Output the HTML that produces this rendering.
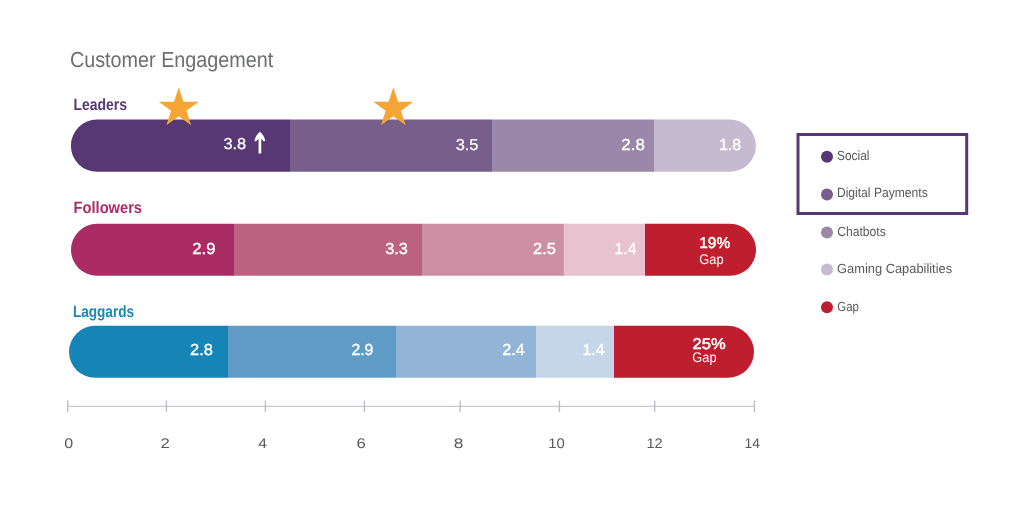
<!DOCTYPE html>
<html lang="en">
<head>
<meta charset="utf-8">
<title>Customer Engagement</title>
<style>
html,body{margin:0;padding:0;background:#fff;}
body{width:1024px;height:509px;overflow:hidden;font-family:"Liberation Sans",sans-serif;}
svg{display:block;}
text{font-family:"Liberation Sans",sans-serif;text-rendering:geometricPrecision;}
.t-title{fill:#6d6e71;}
.t-l1{fill:#573874;font-weight:bold;}
.t-l2{fill:#ab2b65;font-weight:bold;}
.t-l3{fill:#1d86b5;font-weight:bold;}
.num{fill:#fff;stroke:#fff;stroke-width:0.35px;}
.numa{stroke-width:0.25px;}
.pct{fill:#fff;stroke:#fff;stroke-width:0.5px;}
.gap{fill:#fff;}
.ax{fill:#58595b;}
.lg{fill:#58595b;}
</style>
</head>
<body>
<svg width="1024" height="509" viewBox="0 0 1024 509">
<defs>
<clipPath id="c1"><rect x="70.9" y="119.6" width="685" height="52.2" rx="26.1"/></clipPath>
<clipPath id="c2"><rect x="71" y="223.8" width="685" height="52" rx="26"/></clipPath>
<clipPath id="c3"><rect x="69" y="325.8" width="685" height="52" rx="26"/></clipPath>
</defs>

<!-- Leaders -->
<g clip-path="url(#c1)">
<rect x="70" y="119" width="220" height="54" fill="#573874"/>
<rect x="290" y="119" width="202" height="54" fill="#775e8b"/>
<rect x="492" y="119" width="162" height="54" fill="#9a87a9"/>
<rect x="654" y="119" width="102" height="54" fill="#c5bad0"/>
</g>
<path id="arrow" d="M259.9 131.7C262.3 133.6 264.6 137 265.3 140.5L264 141.4L261.25 138.8V153.6H258.55V138.8L255.8 141.4L254.5 140.5C255.2 137 257.5 133.6 259.9 131.7Z" fill="#fff"/>

<!-- stars -->
<polygon id="s1" fill="#f5a533" points="178.75,87.20 183.47,101.71 198.72,101.71 186.38,110.68 191.09,125.19 178.75,116.22 166.41,125.19 171.12,110.68 158.78,101.71 174.03,101.71"/>
<polygon id="s2" fill="#f5a533" points="393.30,87.20 398.02,101.71 413.27,101.71 400.93,110.68 405.64,125.19 393.30,116.22 380.96,125.19 385.67,110.68 373.33,101.71 388.58,101.71"/>

<!-- Followers -->
<g clip-path="url(#c2)">
<rect x="71" y="223" width="163" height="54" fill="#ab2b65"/>
<rect x="234" y="223" width="188" height="54" fill="#bb6280"/>
<rect x="422" y="223" width="143" height="54" fill="#cd8fa3"/>
<rect x="563.8" y="223" width="81.2" height="54" fill="#e6c3cf"/>
<rect x="645" y="223" width="111" height="54" fill="#be1e2d"/>
</g>

<!-- Laggards -->
<g clip-path="url(#c3)">
<rect x="69" y="325" width="159" height="54" fill="#1585b5"/>
<rect x="228" y="325" width="168" height="54" fill="#5f9cc5"/>
<rect x="396" y="325" width="140" height="54" fill="#93b5d5"/>
<rect x="536" y="325" width="78" height="54" fill="#c5d6e9"/>
<rect x="614" y="325" width="140" height="54" fill="#be1e2d"/>
</g>

<!-- axis -->
<line x1="67.7" y1="406.35" x2="754.4" y2="406.35" stroke="#c9c8ce" stroke-width="1.2"/>
<g stroke="#bfbbcc" stroke-width="1.4">
<line x1="67.8" y1="400.6" x2="67.8" y2="412"/>
<line x1="166.4" y1="400.6" x2="166.4" y2="412"/>
<line x1="265.4" y1="400.6" x2="265.4" y2="412"/>
<line x1="364.4" y1="400.6" x2="364.4" y2="412"/>
<line x1="460.1" y1="400.6" x2="460.1" y2="412"/>
<line x1="559.4" y1="400.6" x2="559.4" y2="412"/>
<line x1="654.7" y1="400.6" x2="654.7" y2="412"/>
<line x1="754.4" y1="400.6" x2="754.4" y2="412"/>
</g>

<!-- legend -->
<rect x="798" y="134.5" width="168.7" height="79" fill="none" stroke="#573874" stroke-width="3"/>
<circle cx="827" cy="156.8" r="6" fill="#573874"/>
<circle cx="827" cy="194.6" r="6" fill="#775e8b"/>
<circle cx="827" cy="232.4" r="6" fill="#9a87a9"/>
<circle cx="827" cy="269.5" r="6" fill="#c5bad0"/>
<circle cx="827" cy="307.35" r="6" fill="#be1e2d"/>

<!-- text -->
<text id="title" class="t-title" x="69.97" y="67.10" font-size="21.8" textLength="203.29" lengthAdjust="spacingAndGlyphs">Customer Engagement</text>
<text id="l1" class="t-l1" x="73.56" y="109.50" font-size="16.4" textLength="53.48" lengthAdjust="spacingAndGlyphs">Leaders</text>
<text id="l2" class="t-l2" x="73.58" y="213.20" font-size="16.4" textLength="68.46" lengthAdjust="spacingAndGlyphs">Followers</text>
<text id="l3" class="t-l3" x="72.88" y="316.50" font-size="16.4" textLength="61.20" lengthAdjust="spacingAndGlyphs">Laggards</text>
<text id="n11" class="num numa" x="223.40" y="148.60" font-size="15.8" textLength="22.84" lengthAdjust="spacingAndGlyphs">3.8</text>
<text id="n12" class="num numa" x="455.67" y="149.80" font-size="15.8" textLength="22.82" lengthAdjust="spacingAndGlyphs">3.5</text>
<text id="n13" class="num" x="621.30" y="149.80" font-size="16" textLength="23.54" lengthAdjust="spacingAndGlyphs">2.8</text>
<text id="n14" class="num" x="718.91" y="149.80" font-size="16" textLength="22.13" lengthAdjust="spacingAndGlyphs">1.8</text>
<text id="n21" class="num" x="192.31" y="253.80" font-size="16" textLength="23.11" lengthAdjust="spacingAndGlyphs">2.9</text>
<text id="n22" class="num" x="385.16" y="253.80" font-size="16" textLength="22.65" lengthAdjust="spacingAndGlyphs">3.3</text>
<text id="n23" class="num" x="533.12" y="253.80" font-size="16" textLength="22.85" lengthAdjust="spacingAndGlyphs">2.5</text>
<text id="n24" class="num" x="614.60" y="253.80" font-size="16" textLength="21.83" lengthAdjust="spacingAndGlyphs">1.4</text>
<text id="p2" class="pct" x="699.29" y="248.10" font-size="15.6" textLength="30.93" lengthAdjust="spacingAndGlyphs">19%</text>
<text id="g2" class="gap" x="699.37" y="264.10" font-size="14" textLength="24.28" lengthAdjust="spacingAndGlyphs">Gap</text>
<text id="n31" class="num" x="190.11" y="355.10" font-size="16" textLength="22.83" lengthAdjust="spacingAndGlyphs">2.8</text>
<text id="n32" class="num" x="351.42" y="355.10" font-size="16" textLength="21.95" lengthAdjust="spacingAndGlyphs">2.9</text>
<text id="n33" class="num" x="502.17" y="355.10" font-size="16" textLength="22.61" lengthAdjust="spacingAndGlyphs">2.4</text>
<text id="n34" class="num" x="582.43" y="355.10" font-size="16" textLength="22.36" lengthAdjust="spacingAndGlyphs">1.4</text>
<text id="p3" class="pct" x="692.54" y="349.10" font-size="15.6" textLength="33.11" lengthAdjust="spacingAndGlyphs">25%</text>
<text id="g3" class="gap" x="692.37" y="362.10" font-size="14" textLength="24.28" lengthAdjust="spacingAndGlyphs">Gap</text>
<text id="a0" class="ax" x="64.27" y="448.25" font-size="14" textLength="8.93" lengthAdjust="spacingAndGlyphs">0</text>
<text id="a2" class="ax" x="160.64" y="448.25" font-size="14" textLength="9.33" lengthAdjust="spacingAndGlyphs">2</text>
<text id="a4" class="ax" x="258.39" y="448.25" font-size="14" textLength="8.70" lengthAdjust="spacingAndGlyphs">4</text>
<text id="a6" class="ax" x="356.63" y="448.25" font-size="14" textLength="9.30" lengthAdjust="spacingAndGlyphs">6</text>
<text id="a8" class="ax" x="453.69" y="448.25" font-size="14" textLength="9.65" lengthAdjust="spacingAndGlyphs">8</text>
<text id="a10" class="ax" x="548.29" y="448.25" font-size="14" textLength="16.48" lengthAdjust="spacingAndGlyphs">10</text>
<text id="a12" class="ax" x="646.46" y="448.25" font-size="14" textLength="16.31" lengthAdjust="spacingAndGlyphs">12</text>
<text id="a14" class="ax" x="744.54" y="448.25" font-size="14" textLength="15.48" lengthAdjust="spacingAndGlyphs">14</text>
<text id="g_social" class="lg" x="836.95" y="159.50" font-size="13.3" textLength="32.57" lengthAdjust="spacingAndGlyphs">Social</text>
<text id="g_digital" class="lg" x="836.90" y="197.40" font-size="13.3" textLength="90.87" lengthAdjust="spacingAndGlyphs">Digital Payments</text>
<text id="g_chat" class="lg" x="837.23" y="236.20" font-size="13.3" textLength="48.60" lengthAdjust="spacingAndGlyphs">Chatbots</text>
<text id="g_gaming" class="lg" x="837.10" y="272.60" font-size="13.3" textLength="115.04" lengthAdjust="spacingAndGlyphs">Gaming Capabilities</text>
<text id="g_gap" class="lg" x="837.30" y="311.40" font-size="13.3" textLength="21.51" lengthAdjust="spacingAndGlyphs">Gap</text>
</svg>
</body>
</html>
